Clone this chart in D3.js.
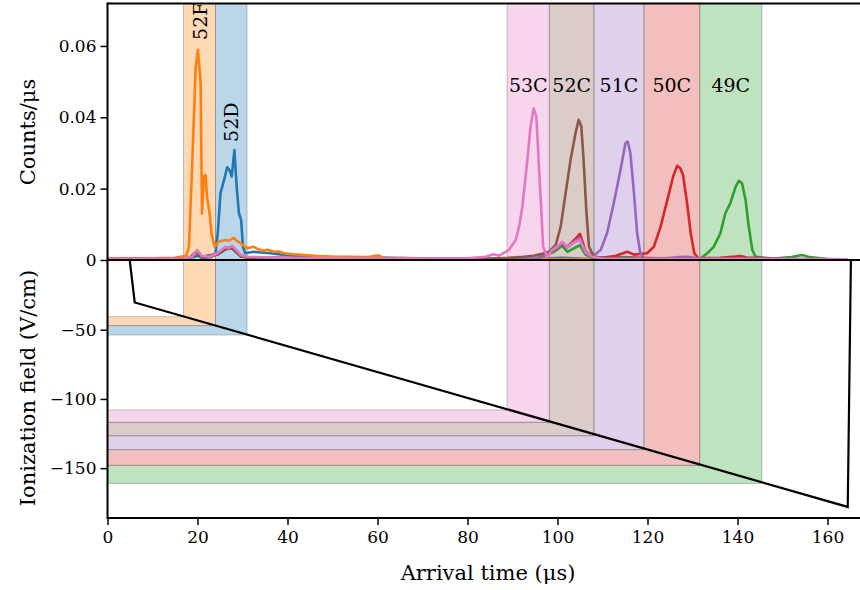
<!DOCTYPE html>
<html>
<head>
<meta charset="utf-8">
<script src="https://cdn.jsdelivr.net/npm/d3@7"></script>
<style>
html,body{margin:0;padding:0;background:#fff;}
svg{display:block;}
text{font-family:"DejaVu Serif",serif;fill:#000;}
</style>
</head>
<body>
<svg id="chart" width="860" height="590"></svg>
<script>
// ---------------- DATA ----------------
const xTicks = [0, 20, 40, 60, 80, 100, 120, 140, 160];
const xTickLabels = ["0", "20", "40", "60", "80", "100", "120", "140", "160"];
const yTopTicks = [0, 0.02, 0.04, 0.06];
const yTopTickLabels = ["0", "0.02", "0.04", "0.06"];
const yBotTicks = [0, -50, -100, -150];
const yBotTickLabels = ["0", "\u221250", "\u2212100", "\u2212150"];

const stateNames = ["52D", "52F", "49C", "50C", "51C", "52C", "53C"];
const stateColors = ["#1f77b4", "#ff7f0e", "#2ca02c", "#d62728", "#9467bd", "#8c564b", "#e377c2"];
// time gate [start, end] in µs
const gateStart = [24.0, 16.9, 131.6, 119.2, 108.1, 98.2, 88.8];
const gateEnd   = [31.0, 24.0, 145.4, 131.6, 119.2, 108.1, 98.2];
// field window [high, low] in V/cm
const fieldHigh = [-47.0, -40.6, -148.0, -136.6, -126.6, -116.9, -108.0];
const fieldLow  = [-53.8, -47.0, -161.0, -148.0, -136.6, -126.6, -116.9];
// label placement value (Counts/µs) and orientation
const labelValue = [0.0331, 0.0617, 0.0471, 0.0471, 0.0471, 0.0471, 0.0471];
const labelVertical = [true, true, false, false, false, false, false];

// arrival-time spectra [time µs, counts/µs]
const spec52D = [[0,0.0003],[10,0.0004],[17,0.0005],[19,0.0008],[20,0.0012],[21,0.0006],[23,0.0008],[24,0.0019],[24.5,0.0075],[25.1,0.0187],[25.9,0.0224],[26.6,0.026],[27.2,0.025],[27.6,0.0234],[28.2,0.0308],[28.7,0.0206],[29.2,0.0131],[29.7,0.0112],[30.1,0.0037],[30.6,0.0019],[31.5,0.0021],[32.5,0.0023],[34,0.0021],[36.3,0.0019],[39.2,0.0014],[42.9,0.0011],[47,0.0008],[55,0.0005],[60,0.0007],[70,0.0004],[85,0.0004],[95,0.0003],[101,0.0006],[105,0.0004],[120,0.0002],[164.5,0.0002]];
const spec52F = [[0,0.0004],[10,0.0005],[15,0.0006],[16.5,0.001],[17.5,0.0012],[18.1,0.0037],[18.8,0.026],[19.6,0.054],[20.1,0.0589],[20.7,0.0495],[21.0,0.013],[21.4,0.0234],[21.8,0.0238],[22.1,0.0178],[22.7,0.013],[23.1,0.0075],[23.8,0.0037],[24.7,0.0051],[26.2,0.0056],[27,0.0054],[28.1,0.0062],[28.6,0.0055],[29.6,0.0047],[31,0.0033],[32.5,0.0037],[33.5,0.003],[34.7,0.0026],[35.5,0.0029],[37,0.0023],[38,0.0024],[39.2,0.0019],[41.4,0.0016],[43.6,0.0014],[46.6,0.0011],[51,0.0009],[54,0.0009],[58,0.0008],[60.3,0.0013],[61.4,0.0006],[70,0.0005],[80,0.0004],[90,0.0003],[100,0.0003],[164.5,0.0002]];
const spec49C = [[0,0.0002],[18,0.0003],[19.9,0.0022],[21,0.0008],[24.4,0.0015],[26.2,0.003],[27.7,0.0033],[29.6,0.001],[32,0.0006],[60,0.0003],[95,0.0003],[98.8,0.002],[100,0.003],[101,0.004],[102.2,0.0023],[104,0.0035],[105,0.0042],[106.2,0.0015],[108,0.0005],[115,0.0008],[120,0.0004],[128,0.0006],[131.8,0.0005],[133.3,0.0019],[134.7,0.0037],[136.2,0.0075],[137.3,0.0131],[138.4,0.0159],[139.6,0.0206],[140.3,0.0222],[141,0.0215],[141.8,0.0168],[142.5,0.0093],[143.3,0.0028],[144,0.0009],[148,0.0004],[152,0.0008],[154.4,0.0014],[156,0.0008],[160,0.0003],[164.5,0.0002]];
const spec50C = [[0,0.0003],[18,0.0003],[19.9,0.0025],[21,0.0009],[24.4,0.0017],[26.2,0.0033],[27.7,0.0037],[29.6,0.0012],[32,0.0006],[60,0.0003],[95,0.0003],[98.8,0.0025],[100,0.0035],[101,0.0045],[102.2,0.0037],[104,0.006],[105,0.0073],[106.2,0.0025],[107.7,0.0009],[110,0.0006],[113,0.0012],[115.5,0.0023],[117,0.0015],[119.9,0.0019],[121.4,0.0037],[122.9,0.0093],[124.4,0.0168],[125.7,0.0234],[126.6,0.0264],[127.3,0.0257],[127.9,0.0238],[128.8,0.0159],[129.6,0.0075],[130.4,0.0019],[131.3,0.0005],[136,0.0006],[139,0.0009],[140.7,0.0011],[142,0.0007],[150,0.0003],[164.5,0.0002]];
const spec51C = [[0,0.0002],[18,0.0003],[19.9,0.0025],[21,0.0009],[24.4,0.0017],[26.2,0.0033],[27.7,0.0036],[29.6,0.0012],[32,0.0006],[60,0.0003],[88,0.0003],[95,0.0003],[98.8,0.0025],[100,0.0035],[101,0.0048],[102.2,0.0035],[104,0.0055],[105,0.0061],[106.2,0.002],[107.7,0.0009],[109.6,0.0028],[111,0.0075],[112.5,0.0159],[114,0.0252],[115.1,0.0327],[115.6,0.0332],[116.2,0.0299],[117,0.0187],[117.7,0.0075],[118.4,0.0019],[119.2,0.0005],[124,0.0004],[127,0.0008],[129,0.0009],[131,0.0004],[164.5,0.0002]];
const spec52C = [[0,0.0002],[18,0.0003],[19.9,0.0022],[21,0.0008],[24.4,0.0015],[26.2,0.003],[27.7,0.0033],[29.6,0.001],[32,0.0006],[60,0.0003],[85,0.0004],[89,0.0006],[92.5,0.0009],[94.7,0.0012],[97,0.0019],[98.1,0.0023],[99.6,0.0042],[100.7,0.0093],[101.8,0.0187],[102.9,0.028],[104,0.0355],[104.7,0.0393],[105.3,0.0374],[105.8,0.028],[106.4,0.014],[107,0.0037],[108.1,0.0009],[112,0.0005],[118,0.0006],[125,0.0004],[164.5,0.0002]];
const spec53C = [[0,0.0003],[17,0.0004],[18.8,0.0009],[19.9,0.0028],[21,0.0011],[22.7,0.0009],[24.4,0.0019],[26.2,0.0037],[26.9,0.0033],[27.7,0.004],[28.4,0.0031],[29.6,0.0014],[31.1,0.0009],[40,0.0006],[60,0.0004],[80,0.0005],[84,0.0009],[85.8,0.0016],[87,0.0012],[89.2,0.0028],[90.7,0.0056],[91.5,0.0095],[92.2,0.015],[93.3,0.028],[94,0.0374],[94.7,0.0425],[95.3,0.0402],[95.8,0.028],[96.4,0.014],[96.8,0.0037],[97.7,0.0009],[98.8,0.0028],[100,0.0038],[101,0.0051],[102.2,0.0037],[104,0.0051],[105,0.0056],[106.2,0.0023],[107.7,0.0009],[110,0.0004],[164.5,0.0002]];
const spectra = [spec52D, spec52F, spec49C, spec50C, spec51C, spec52C, spec53C];

// ionization field ramp [time µs, field V/cm]
const fieldRamp = [[4.95,0],[6.05,-30.3],[164.5,-178.0],[165.2,0]];

// ---------------- LAYOUT ----------------
const svg = d3.select("#chart");
const left = 107.5, right = 860, topY = 3.5, midY = 260, botY = 518;

const x = d3.scaleLinear().domain([0, 168]).range([left, left + 168 * 4.5]);
const yTop = d3.scaleLinear().domain([0, 0.0719]).range([midY, topY]);
const yBot = d3.scaleLinear().domain([-186, 0]).range([botY, midY + 0.5]);

const defs = svg.append("defs");
defs.append("clipPath").attr("id", "clipTop").append("rect")
  .attr("x", left).attr("y", topY).attr("width", right - left).attr("height", midY - topY);
defs.append("clipPath").attr("id", "clipBot").append("rect")
  .attr("x", left).attr("y", midY).attr("width", right - left).attr("height", botY - midY);

const gTop = svg.append("g").attr("clip-path", "url(#clipTop)");
const gBot = svg.append("g").attr("clip-path", "url(#clipBot)");

const idx = d3.range(stateNames.length);

// bands in top panel
gTop.selectAll("rect.band").data(idx).join("rect")
  .attr("class", "band")
  .attr("x", i => x(gateStart[i]))
  .attr("width", i => x(gateEnd[i]) - x(gateStart[i]))
  .attr("y", yTop(0.0719))
  .attr("height", yTop(0) - yTop(0.0719))
  .attr("fill", i => stateColors[i]).attr("fill-opacity", 0.3)
  .attr("stroke", "#777").attr("stroke-opacity", 0.45).attr("stroke-width", 1);

// L-shaped bands in bottom panel
gBot.selectAll("path.band").data(idx).join("path")
  .attr("class", "band")
  .attr("d", i => {
    const pts = [[gateStart[i], 0], [gateEnd[i], 0], [gateEnd[i], fieldLow[i]], [0, fieldLow[i]], [0, fieldHigh[i]], [gateStart[i], fieldHigh[i]]];
    return "M" + pts.map(p => x(p[0]) + "," + yBot(p[1])).join("L") + "Z";
  })
  .attr("fill", i => stateColors[i]).attr("fill-opacity", 0.3)
  .attr("stroke", "#777").attr("stroke-opacity", 0.45).attr("stroke-width", 1);

// spectra lines
const line = d3.line().x(d => x(d[0])).y(d => yTop(d[1]));
gTop.selectAll("path.spec").data(idx).join("path")
  .attr("class", "spec")
  .attr("d", i => line(spectra[i]))
  .attr("fill", "none")
  .attr("stroke", i => stateColors[i])
  .attr("stroke-width", 2.6)
  .attr("stroke-linejoin", "round");

// band labels
gTop.selectAll("text.lab").data(idx).join("text")
  .attr("class", "lab")
  .attr("font-size", 19)
  .attr("transform", i => {
    const cx = x((gateStart[i] + gateEnd[i]) / 2), cy = yTop(labelValue[i]);
    return labelVertical[i] ? `translate(${cx},${cy}) rotate(-90)` : `translate(${cx},${cy})`;
  })
  .attr("text-anchor", i => labelVertical[i] ? "start" : "middle")
  .attr("dominant-baseline", i => labelVertical[i] ? "central" : "alphabetic")
  .text(i => stateNames[i]);

// field ramp
const fline = d3.line().x(d => x(d[0])).y(d => yBot(d[1]));
gBot.append("path").attr("d", fline(fieldRamp))
  .attr("fill", "none").attr("stroke", "#000").attr("stroke-width", 2.2)
  .attr("stroke-linejoin", "miter");

// ---------------- AXES ----------------
function styleAxis(g) {
  g.select(".domain").remove();
  g.selectAll(".tick line").attr("stroke", "#000").attr("stroke-width", 1.5);
  g.selectAll(".tick text").attr("font-family", "DejaVu Serif").attr("font-size", 17).attr("fill", "#000");
}
svg.append("g").attr("transform", `translate(${left},0)`)
  .call(d3.axisLeft(yTop).tickValues(yTopTicks).tickSize(7).tickPadding(4)
    .tickFormat((d, i) => yTopTickLabels[i]))
  .call(styleAxis);
svg.append("g").attr("transform", `translate(${left},0)`)
  .call(d3.axisLeft(yBot).tickValues(yBotTicks.slice(1)).tickSize(7).tickPadding(4)
    .tickFormat((d, i) => yBotTickLabels[i + 1]))
  .call(styleAxis);
svg.append("g").attr("transform", `translate(0,${botY})`)
  .call(d3.axisBottom(x).tickValues(xTicks).tickSize(7).tickPadding(6)
    .tickFormat((d, i) => xTickLabels[i]))
  .call(styleAxis);

// spines
const sp = svg.append("g").attr("stroke", "#000").attr("stroke-width", 2).attr("fill", "none");
sp.append("line").attr("x1", left).attr("x2", right).attr("y1", topY).attr("y2", topY);
sp.append("line").attr("x1", left).attr("x2", right).attr("y1", midY).attr("y2", midY);
sp.append("line").attr("x1", left).attr("x2", right).attr("y1", botY).attr("y2", botY);
sp.append("line").attr("x1", left).attr("x2", left).attr("y1", topY - 1).attr("y2", botY + 1);

// axis titles
svg.append("text").attr("x", 488).attr("y", 580).attr("text-anchor", "middle")
  .attr("font-size", 21).text("Arrival time (\u03bcs)");
svg.append("text").attr("transform", "translate(35,132) rotate(-90)").attr("text-anchor", "middle")
  .attr("font-size", 21).text("Counts/\u03bcs");
svg.append("text").attr("transform", "translate(35,388) rotate(-90)").attr("text-anchor", "middle")
  .attr("font-size", 21).text("Ionization field (V/cm)");
</script>
</body>
</html>
